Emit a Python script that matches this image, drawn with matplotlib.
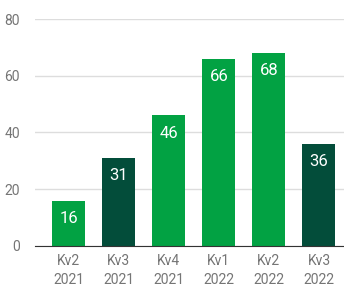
import matplotlib
matplotlib.use("Agg")
import matplotlib.pyplot as plt

# ── Data ──────────────────────────────────────────────
quarters = ["Kv2", "Kv3", "Kv4", "Kv1", "Kv2", "Kv3"]
years = ["2021", "2021", "2021", "2022", "2022", "2022"]
values = [16, 31, 46, 66, 68, 36]
is_q3 = [False, True, False, False, False, True]

light_green = "#02A243"
dark_green = "#034D3A"

plt.rcParams["font.family"] = ["Roboto", "DejaVu Sans"]

fig = plt.figure(figsize=(3.44, 2.88), dpi=100)
ax = fig.add_axes([0.102, 0.146, 0.898, 0.788])

labels = [f"{q}\n{y}" for q, y in zip(quarters, years)]
colors = [dark_green if q3 else light_green for q3 in is_q3]
x = range(len(values))

bars = ax.bar(x, values, width=0.66, color=colors, zorder=3)

# Value labels inside bars
for bar, val in zip(bars, values):
    ax.text(
        bar.get_x() + bar.get_width() / 2,
        bar.get_height() - 6.2,
        f"{val}",
        ha="center",
        va="center",
        fontsize=12,
        color="white",
        zorder=4
    )

ax.set_xlim(-0.67, len(values) - 0.5)
ax.set_ylim(0, 80)
ax.set_yticks([0, 20, 40, 60, 80])
ax.set_xticks(list(x))
ax.set_xticklabels(labels, fontsize=10, color="#757575", linespacing=1.45)
ax.tick_params(axis="y", labelsize=10, labelcolor="#757575", length=0, pad=11)
ax.tick_params(axis="x", length=0, pad=6)

ax.grid(axis="y", color="#DDDDDD", linewidth=1, zorder=0)
for s in ["top", "right", "left"]:
    ax.spines[s].set_visible(False)
ax.spines["bottom"].set_color("#333333")
ax.spines["bottom"].set_zorder(5)

fig.savefig("out.png", dpi=100)
